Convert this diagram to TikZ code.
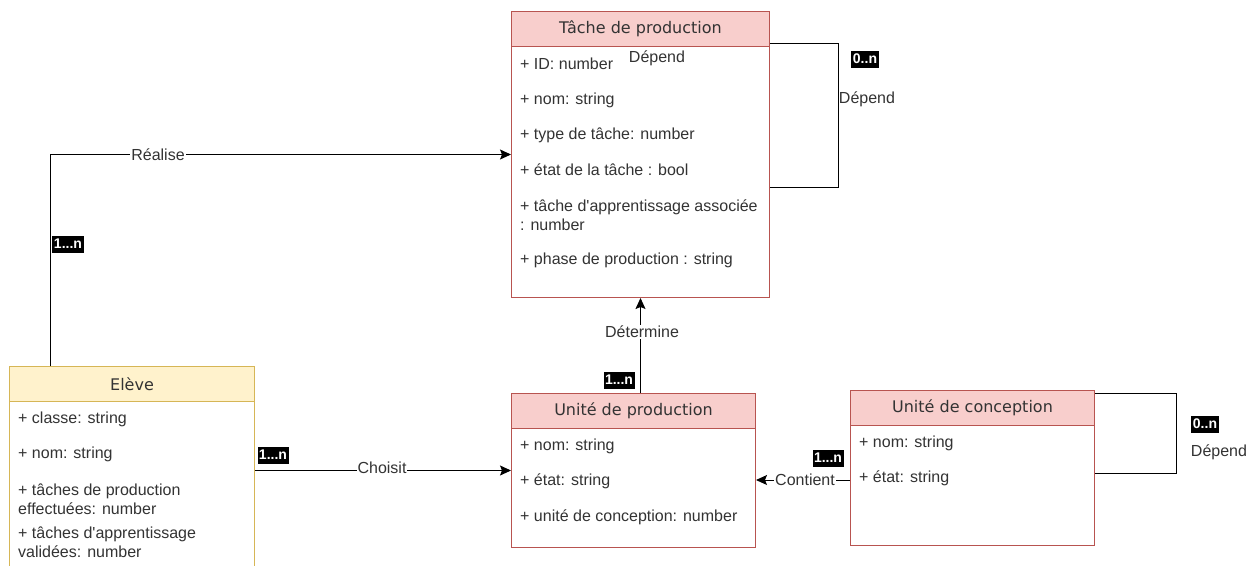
\documentclass[tikz,border=0pt]{standalone}
\usepackage{fontspec}
\newfontfamily\lib{Liberation Sans}
\newfontfamily\hdfont{DejaVu Sans}
\usetikzlibrary{arrows.meta}
\definecolor{pinkfill}{HTML}{F8CECC}
\definecolor{pinkline}{HTML}{B85450}
\definecolor{yelfill}{HTML}{FFF2CC}
\definecolor{yelline}{HTML}{D6B656}
\definecolor{txt}{HTML}{333333}
\tikzset{
  body/.style={draw, line width=1pt, fill=white, anchor=north west, inner sep=0pt},
  head/.style={draw, line width=1pt, anchor=north west, inner sep=0pt, minimum height=35pt, text=txt, font=\hdfont\fontsize{16}{19}\selectfont},
  attr/.style={anchor=west, inner sep=0pt, text=txt, align=left, font=\lib\fontsize{16}{19}\selectfont},
  lbl/.style={inner sep=1pt, text=txt, font=\lib\fontsize{16}{19}\selectfont},
  wlbl/.style={lbl, fill=white},
  mult/.style={fill=black, text=white, inner sep=1.5pt, minimum height=17pt, font=\lib\bfseries\fontsize{14}{16}\selectfont},
  conn/.style={line width=1pt, black},
  arr/.style={conn, -{Stealth[length=11pt,width=10pt,inset=2pt]}},
}
\begin{document}
\begin{tikzpicture}[x=1pt,y=-1pt]
\useasboundingbox (0,0) rectangle (1255,565);
\fill[white] (0,0) rectangle (1255,565);
\begin{scope}
\clip (0,0) rectangle (1255,565);
% Tache de production
\node[body, draw=pinkline, minimum width=258pt, minimum height=286pt] (tache) at (511,11) {};
\node[head, draw=pinkline, fill=pinkfill, minimum width=258pt] (tacheh) at (511,11) {T\^ache de production};
% Eleve
\node[body, draw=yelline, minimum width=245pt, minimum height=215pt] (eleve) at (9,366) {};
\node[head, draw=yelline, fill=yelfill, minimum width=245pt] (eleveh) at (9,366) {El\`eve};
% Unite de production
\node[body, draw=pinkline, minimum width=244pt, minimum height=154pt] (uprod) at (511,393) {};
\node[head, draw=pinkline, fill=pinkfill, minimum width=244pt] (uprodh) at (511,393) {Unit\'e de production};
% Unite de conception
\node[body, draw=pinkline, minimum width=244pt, minimum height=155pt] (uconc) at (850,390) {};
\node[head, draw=pinkline, fill=pinkfill, minimum width=244pt] (uconch) at (850,390) {Unit\'e de conception};
\end{scope}

% attributes Tache
\node[attr] (ta1) at (520,64) {+ ID: number};
\node[attr] (ta2) at (520,100) {+ nom: string};
\node[attr] (ta3) at (520,135) {+ type de t\^ache: number};
\node[attr] (ta4) at (520,170) {+ \'etat de la t\^ache : bool};
\node[attr] (ta5) at (520,215.5) {+ t\^ache d'apprentissage associ\'ee\\: number};
\node[attr] (ta6) at (520,260) {+ phase de production : string};
% attributes Eleve
\node[attr] (ea1) at (18,419) {+ classe: string};
\node[attr] (ea2) at (18,454) {+ nom: string};
\node[attr] (ea3) at (18,499) {+ t\^aches de production\\effectu\'ees: number};
\node[attr] (ea4) at (18,542) {+ t\^aches d'apprentissage\\valid\'ees: number};
% attributes Unite de production
\node[attr] (pa1) at (520,446) {+ nom: string};
\node[attr] (pa2) at (520,481) {+ \'etat: string};
\node[attr] (pa3) at (520,517) {+ unit\'e de conception: number};
% attributes Unite de conception
\node[attr] (ca1) at (859,443) {+ nom: string};
\node[attr] (ca2) at (859,478) {+ \'etat: string};

% self loop Tache
\draw[conn] ([yshift=-32pt]tache.north east) -- ++(68,0) -- ++(0,144) -- ([yshift=-176pt]tache.north east);
\node[lbl] (td1) at (657,58) {D\'epend};
\node[mult] (tm) at (865,59) {0..n};
\node[lbl] (td2) at (867,99) {D\'epend};

% self loop Unite de conception
\draw[conn] ([yshift=-3pt]uconc.north east) -- ++(81,0) -- ++(0,80) -- ([yshift=-83pt]uconc.north east);
\node[mult] (cm) at (1205,424) {0..n};
\node[lbl] (cd) at (1219,452) {D\'epend};

% Realise
\draw[arr] ([xshift=41pt]eleve.north west) |- (tache.west);
\node[wlbl] (rl) at (158,155) {R\'ealise};
\node[mult] (rm) at (68,244) {1...n};

% Choisit
\draw[arr] (eleve.east |- uprod.west) -- (uprod.west);
\node[wlbl] (chl) at (382,468) {Choisit};
\node[mult] (chm) at (273,455) {1...n};

% Determine
\draw[arr] (uprod.north -| tache.south) -- (tache.south);
\node[wlbl] (dl) at (642,332) {D\'etermine};
\node[mult] (dm) at (619,380) {1...n};

% Contient
\draw[arr] ([yshift=-12pt]uconc.west) -- ([yshift=-12pt]uconc.west -| uprod.east);
\node[wlbl] (col) at (805,480) {Contient};
\node[mult] (com) at (828,458) {1...n};
\end{tikzpicture}
\end{document}
